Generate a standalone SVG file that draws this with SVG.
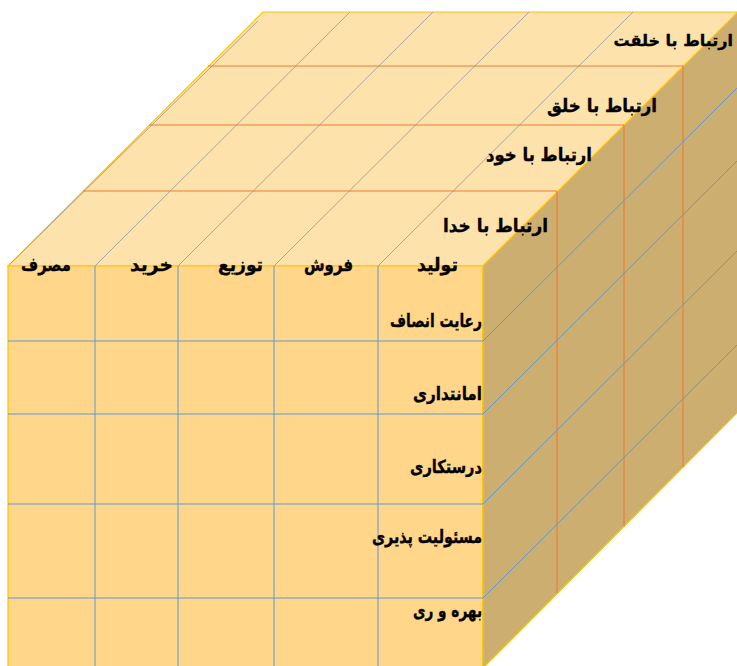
<svg xmlns="http://www.w3.org/2000/svg" width="737" height="666" viewBox="0 0 737 666">
<style>
.lbl{font-family:"DejaVu Sans","Noto Sans",sans-serif;font-weight:bold;font-size:18px;fill:#000;stroke:#000;stroke-width:0.35;text-anchor:end}
.rtl{direction:rtl;text-anchor:start;font-size:16px}
.org{stroke:#ED7D31;stroke-width:1.2;fill:none}
.blu{stroke:#5B9BD5;stroke-width:1;fill:none}
.gry{stroke:#A5A5A5;stroke-width:1;fill:none}
.edge{stroke:#FFC000;stroke-width:1.2}
</style>
<rect width="737" height="666" fill="#fff"/>
<g id="top-face"><polygon class="edge" points="8,266 263,12 738,12 483,266" fill="#FDE2AC"/></g>
<g id="front-face"><polygon class="edge" points="8,266 483,266 483,668 8,668" fill="#FFD68A"/></g>
<g id="side-face"><polygon class="edge" points="483,266 738,12 738,412 483,668" fill="#CCAE70"/></g>
<g id="connectors">
<line class="gry" x1="10" y1="264" x2="258" y2="21"/>
<line class="gry" x1="95" y1="266" x2="350" y2="12"/>
<line class="gry" x1="178" y1="266" x2="433" y2="12"/>
<line class="gry" x1="274" y1="266" x2="529" y2="12"/>
<line class="gry" x1="378" y1="266" x2="633" y2="12"/>
<line class="org" x1="208" y1="66" x2="683" y2="66"/>
<line class="org" x1="149" y1="125" x2="624" y2="125"/>
<line class="org" x1="83" y1="191" x2="557" y2="191"/>
<line class="org" x1="557" y1="191" x2="557" y2="593"/>
<line class="org" x1="624" y1="125" x2="624" y2="526"/>
<line class="org" x1="683" y1="66" x2="683" y2="467"/>
<line class="blu" x1="95" y1="266" x2="95" y2="668"/>
<line class="blu" x1="178" y1="266" x2="178" y2="668"/>
<line class="blu" x1="274" y1="266" x2="274" y2="668"/>
<line class="blu" x1="378" y1="266" x2="378" y2="668"/>
<line class="blu" x1="8" y1="341" x2="483" y2="341"/>
<line class="blu" x1="8" y1="414" x2="483" y2="414"/>
<line class="blu" x1="8" y1="504" x2="483" y2="504"/>
<line class="blu" x1="8" y1="598" x2="483" y2="598"/>
<line class="blu" x1="483" y1="341" x2="738" y2="87"/>
<line class="blu" x1="483" y1="414" x2="738" y2="160"/>
<line class="blu" x1="483" y1="504" x2="738" y2="250"/>
<line class="blu" x1="483" y1="598" x2="738" y2="344"/>
</g>
<g id="depth-labels">
<text class="lbl rtl" x="733" y="46">ارتباط با خلقت</text>
<text class="lbl" x="657" y="112" textLength="110" lengthAdjust="spacingAndGlyphs">ارتباط با خلق</text>
<text class="lbl" x="592" y="161" textLength="106" lengthAdjust="spacingAndGlyphs">ارتباط با خود</text>
<text class="lbl" x="548" y="232" textLength="105" lengthAdjust="spacingAndGlyphs">ارتباط با خدا</text>
</g>
<g id="column-labels">
<text class="lbl" x="71" y="271" textLength="50" lengthAdjust="spacingAndGlyphs">مصرف</text>
<text class="lbl" x="173" y="271" textLength="43" lengthAdjust="spacingAndGlyphs">خرید</text>
<text class="lbl" x="263" y="271" textLength="45" lengthAdjust="spacingAndGlyphs">توزیع</text>
<text class="lbl" x="353" y="271" textLength="49" lengthAdjust="spacingAndGlyphs">فروش</text>
<text class="lbl" x="458" y="271" textLength="41" lengthAdjust="spacingAndGlyphs">تولید</text>
</g>
<g id="row-labels">
<text class="lbl" x="482" y="327" textLength="92" lengthAdjust="spacingAndGlyphs">رعایت انصاف</text>
<text class="lbl" x="482" y="400" textLength="69" lengthAdjust="spacingAndGlyphs">امانتداری</text>
<text class="lbl" x="482" y="473" textLength="72" lengthAdjust="spacingAndGlyphs">درستکاری</text>
<text class="lbl" x="482" y="543" textLength="110" lengthAdjust="spacingAndGlyphs">مسئولیت پذیری</text>
<text class="lbl" x="482" y="617" textLength="69" lengthAdjust="spacingAndGlyphs">بهره و ری</text>
</g>
</svg>
